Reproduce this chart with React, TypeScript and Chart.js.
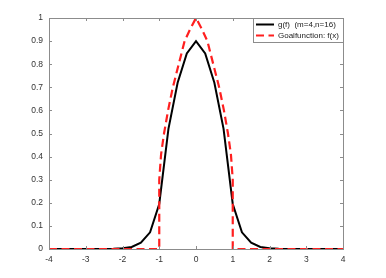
import React, { useEffect, useRef } from "react";
import { Chart, registerables } from "chart.js";

Chart.register(...registerables);

const gLabel = "g(f)  (m=4,n=16)";
const fLabel = "Goalfunction: f(x)";

const gX = [-4, -3.75, -3.5, -3.25, -3, -2.75, -2.5, -2.25, -2, -1.75, -1.5, -1.25, -1, -0.75, -0.5, -0.25, 0,
  0.25, 0.5, 0.75, 1, 1.25, 1.5, 1.75, 2, 2.25, 2.5, 2.75, 3, 3.25, 3.5, 3.75, 4];
const gY = [0, 0, 0, 0, 0, 0, 0, 0.001, 0.003, 0.009, 0.027, 0.072, 0.195, 0.52, 0.72, 0.847, 0.9,
  0.847, 0.72, 0.52, 0.195, 0.072, 0.027, 0.009, 0.003, 0.001, 0, 0, 0, 0, 0, 0, 0];

const fX = [-4, -1, -1, -0.95, -0.87, -0.76, -0.63, -0.47, -0.31, -0.15, 0, 0.15, 0.31, 0.47, 0.63, 0.76, 0.87, 0.95, 1, 1, 4];
const fY = [0, 0, 0.3, 0.41, 0.5, 0.6, 0.7, 0.8, 0.9, 0.955, 1, 0.955, 0.9, 0.8, 0.7, 0.6, 0.5, 0.41, 0.3, 0, 0];

const xTicks = [-4, -3, -2, -1, 0, 1, 2, 3, 4];
const yTicks = [0, 0.1, 0.2, 0.3, 0.4, 0.5, 0.6, 0.7, 0.8, 0.9, 1];

const FONT = "Liberation Sans, Arial, Helvetica, sans-serif";

const boxPlugin = {
  id: "matlabBox",
  afterDatasetsDraw(chart: any) {
    const { ctx, chartArea: a, scales } = chart;
    ctx.save();
    ctx.strokeStyle = "#8c8c8c";
    ctx.lineWidth = 1;
    ctx.strokeRect(Math.round(a.left) + 0.5, Math.round(a.top) + 0.5, Math.round(a.right - a.left), Math.round(a.bottom - a.top));
    const tl = 3;
    ctx.beginPath();
    for (const v of xTicks) {
      const px = Math.round(scales.x.getPixelForValue(v)) + 0.5;
      ctx.moveTo(px, a.bottom);
      ctx.lineTo(px, a.bottom - tl);
      ctx.moveTo(px, a.top);
      ctx.lineTo(px, a.top + tl);
    }
    for (const v of yTicks) {
      const py = Math.round(scales.y.getPixelForValue(v)) + 0.5;
      ctx.moveTo(a.left, py);
      ctx.lineTo(a.left + tl, py);
      ctx.moveTo(a.right, py);
      ctx.lineTo(a.right - tl, py);
    }
    ctx.stroke();

    // legend
    const lx = 253, ly = 18, lw = 343 - 253, lh = 24;
    ctx.fillStyle = "#ffffff";
    ctx.fillRect(lx, ly, lw, lh);
    ctx.strokeStyle = "#8c8c8c";
    ctx.strokeRect(lx + 0.5, ly + 0.5, lw, lh);
    const ds = chart.data.datasets;
    const rows = [ds[0], ds[1]];
    rows.forEach((d: any, i: number) => {
      const y = ly + 6.5 + i * 11;
      ctx.beginPath();
      ctx.strokeStyle = d.borderColor;
      ctx.lineWidth = 2;
      ctx.setLineDash(d.borderDash || []);
      ctx.moveTo(256, y);
      ctx.lineTo(274, y);
      ctx.stroke();
      ctx.setLineDash([]);
      ctx.fillStyle = "#222";
      ctx.font = "8px " + FONT;
      ctx.textBaseline = "middle";
      ctx.textAlign = "left";
      ctx.fillText(d.label, 278, y);
    });
    ctx.restore();
  },
};

export default function App() {
  const ref = useRef<HTMLCanvasElement>(null);
  useEffect(() => {
    document.body.style.margin = "0";
    const ctx = ref.current!;
    const chart = new Chart(ctx, {
      type: "scatter",
      data: {
        datasets: [
          {
            label: gLabel,
            data: gX.map((x, i) => ({ x, y: gY[i] })),
            showLine: true,
            borderColor: "#000000",
            borderWidth: 2,
            pointRadius: 0,
            order: 2,
          },
          {
            label: fLabel,
            data: fX.map((x, i) => ({ x, y: fY[i] })),
            showLine: true,
            borderColor: "#ff1f1f",
            borderWidth: 2.2,
            borderDash: [8, 4.5],
            pointRadius: 0,
            order: 1,
          },
        ],
      },
      options: {
        animation: false,
        responsive: false,
        devicePixelRatio: 1,
        layout: { padding: { left: 0, top: 18, right: 43, bottom: 0 } },
        plugins: { legend: { display: false }, tooltip: { enabled: false } },
        scales: {
          x: {
            type: "linear",
            min: -4,
            max: 4,
            afterFit: (s: any) => { s.height = 29; },
            afterBuildTicks: (s: any) => { s.ticks = xTicks.map((v) => ({ value: v })); },
            grid: { display: false, drawTicks: false },
            border: { display: false },
            ticks: { color: "#333", font: { size: 8.5, family: FONT }, padding: 6, maxRotation: 0 },
          },
          y: {
            type: "linear",
            min: 0,
            max: 1,
            afterFit: (s: any) => { s.width = 49; },
            afterBuildTicks: (s: any) => { s.ticks = yTicks.map((v) => ({ value: v })); },
            grid: { display: false, drawTicks: false },
            border: { display: false },
            ticks: { color: "#333", font: { size: 8.5, family: FONT }, padding: 6, callback: (v: any) => String(Math.round(v * 10) / 10) },
          },
        },
      },
      plugins: [boxPlugin],
    });
    return () => chart.destroy();
  }, []);
  return <canvas ref={ref} width={386} height={278} style={{ display: "block" }} />;
}
